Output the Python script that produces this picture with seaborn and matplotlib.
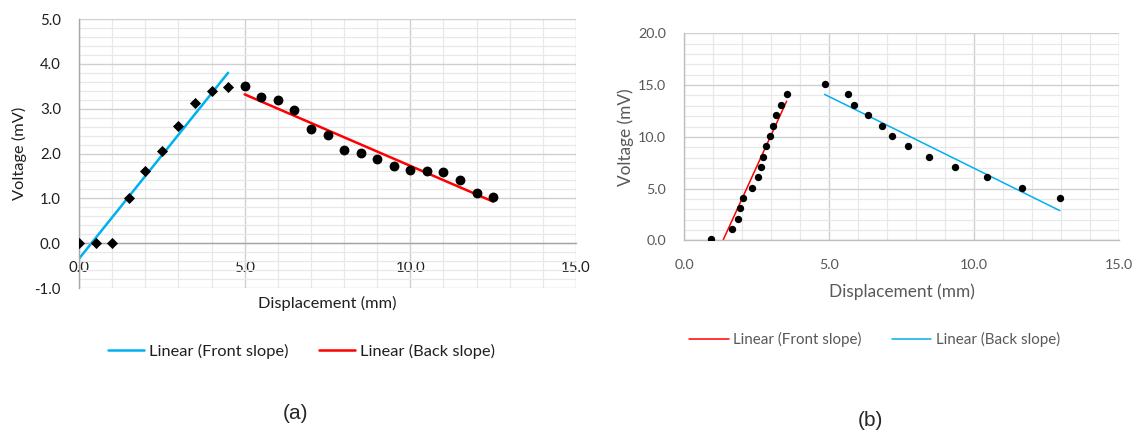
import matplotlib
matplotlib.use("Agg")
import matplotlib.pyplot as plt
from matplotlib.ticker import MultipleLocator, FormatStrFormatter
import seaborn as sns

# panel (a)
a_front_x = [0.0, 0.5, 1.0, 1.5, 2.0, 2.5, 3.0, 3.5, 4.0, 4.5]
a_front_y = [0.0, 0.0, 0.0, 1.0, 1.6, 2.05, 2.62, 3.12, 3.4, 3.48]
a_back_x = [5.0, 5.5, 6.0, 6.5, 7.0, 7.5, 8.0, 8.5, 9.0, 9.5, 10.0, 10.5, 11.0, 11.5, 12.0, 12.5]
a_back_y = [3.51, 3.26, 3.19, 2.96, 2.55, 2.41, 2.07, 2.01, 1.87, 1.73, 1.64, 1.62, 1.58, 1.42, 1.13, 1.02]

# panel (b)
b_front_x = [0.94, 1.65, 1.85, 1.93, 2.02, 2.36, 2.55, 2.65, 2.73, 2.82, 2.95, 3.06, 3.16, 3.34, 3.54]
b_front_y = [0.1, 1.1, 2.1, 3.1, 4.1, 5.1, 6.1, 7.1, 8.1, 9.1, 10.1, 11.1, 12.1, 13.1, 14.1]
b_back_x = [4.85, 5.66, 5.85, 6.36, 6.82, 7.16, 7.73, 8.44, 9.33, 10.46, 11.65, 12.96]
b_back_y = [15.1, 14.1, 13.1, 12.1, 11.1, 10.1, 9.1, 8.1, 7.1, 6.1, 5.1, 4.1]

legend_labels = ["Linear (Front slope)", "Linear (Back slope)"]
x_label = "Displacement (mm)"
y_label = "Voltage (mV)"

sns.set_theme(style="white")
plt.rcParams["font.family"] = ["Lato", "DejaVu Sans"]

BLUE = "#00B0F0"
RED = "#FF0000"


def style_axes(ax, ylim, ymajor, yminor, txt_color, fs, lab_fs, spine_color):
    ax.set_xlim(0, 15)
    ax.set_ylim(*ylim)
    ax.xaxis.set_major_locator(MultipleLocator(5))
    ax.xaxis.set_minor_locator(MultipleLocator(1))
    ax.yaxis.set_major_locator(MultipleLocator(ymajor))
    ax.yaxis.set_minor_locator(MultipleLocator(yminor))
    ax.xaxis.set_major_formatter(FormatStrFormatter("%.1f"))
    ax.yaxis.set_major_formatter(FormatStrFormatter("%.1f"))
    ax.set_axisbelow(True)
    ax.grid(True, which="major", color="#d0d0d0", linewidth=1.0)
    ax.grid(True, which="minor", color="#e8e8e8", linewidth=0.9)
    for side in ["top", "right"]:
        ax.spines[side].set_visible(False)
    for side in ["left", "bottom"]:
        ax.spines[side].set_color(spine_color)
        ax.spines[side].set_linewidth(1.0)
    ax.tick_params(which="major", direction="out", length=4, width=1,
                   color=spine_color, labelsize=fs, labelcolor=txt_color, pad=9)
    ax.tick_params(which="minor", length=0)
    ax.set_xlabel(x_label, fontsize=lab_fs, color=txt_color, va="center")
    ax.set_ylabel(y_label, fontsize=lab_fs, color=txt_color, va="center")


fig = plt.figure(figsize=(11.35, 4.32), dpi=100)
ax_a = fig.add_axes([0.0696, 0.3333, 0.4379, 0.6227])
ax_b = fig.add_axes([0.6026, 0.4433, 0.3833, 0.4796])

# ---- (a)
sns.regplot(x=a_front_x, y=a_front_y, ax=ax_a, scatter=False, ci=None,
            truncate=True, color=BLUE, line_kws=dict(lw=1.8))
sns.regplot(x=a_back_x, y=a_back_y, ax=ax_a, scatter=False, ci=None,
            truncate=True, color=RED, line_kws=dict(lw=1.8))
sns.scatterplot(x=a_front_x, y=a_front_y, ax=ax_a, marker="D", s=32,
                color="black", linewidth=0, zorder=5)
sns.scatterplot(x=a_back_x, y=a_back_y, ax=ax_a, marker="o", s=50,
                color="black", linewidth=0, zorder=5)
style_axes(ax_a, (-1, 5), 1, 0.2, "#1f1f1f", 10.8, 11.8, "#a6a6a6")
ax_a.spines["bottom"].set_position(("data", 0))
ax_a.xaxis.set_label_coords(0.5, -0.058)
ax_a.yaxis.set_label_coords(-0.12, 0.5)

# ---- (b)
sns.regplot(x=b_front_x, y=b_front_y, ax=ax_b, scatter=False, ci=None,
            truncate=True, color=RED, line_kws=dict(lw=1.1))
sns.regplot(x=b_back_x, y=b_back_y, ax=ax_b, scatter=False, ci=None,
            truncate=True, color=BLUE, line_kws=dict(lw=1.1))
sns.scatterplot(x=b_front_x + b_back_x, y=b_front_y + b_back_y, ax=ax_b,
                marker="o", s=28, color="black", linewidth=0, zorder=5)
style_axes(ax_b, (0, 20), 5, 1, "#595959", 10.3, 12.4, "#bfbfbf")
ax_b.xaxis.set_label_coords(0.5, -0.247)
ax_b.yaxis.set_label_coords(-0.134, 0.5)

# legends below each panel
fig.legend(handles=ax_a.lines[:2], labels=legend_labels, loc="center",
           bbox_to_anchor=(0.2656, 0.1859), ncol=2, frameon=False,
           fontsize=11.8, handlelength=2.2, handletextpad=0.3,
           columnspacing=1.9, labelcolor="#1f1f1f")
fig.legend(handles=ax_b.lines[:2], labels=legend_labels, loc="center",
           bbox_to_anchor=(0.7705, 0.2146), ncol=2, frameon=False,
           fontsize=10.9, handlelength=2.6, handletextpad=0.3,
           columnspacing=2.0, labelcolor="#595959")

fig.text(296 / 1135, 1 - 413.5 / 432, "(a)", ha="center", va="center",
         fontsize=15, family="Liberation Sans")
fig.text(870 / 1135, 1 - 420 / 432, "(b)", ha="center", va="center",
         fontsize=15, family="Liberation Sans")

fig.savefig("out.png", dpi=100)
